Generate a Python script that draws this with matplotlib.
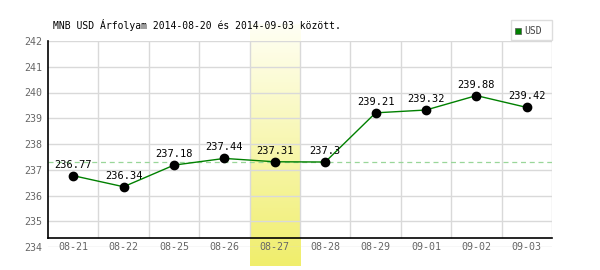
import numpy as np
import matplotlib.pyplot as plt
from matplotlib.colors import LinearSegmentedColormap

dates = ['08-21', '08-22', '08-25', '08-26', '08-27', '08-28', '08-29', '09-01', '09-02', '09-03']
rates = [236.77, 236.34, 237.18, 237.44, 237.31, 237.3, 239.21, 239.32, 239.88, 239.42]
labels = ['236.77', '236.34', '237.18', '237.44', '237.31', '237.3', '239.21', '239.32', '239.88', '239.42']
y_ticks = [234, 235, 236, 237, 238, 239, 240, 241, 242]
highlight = 4  # 08-27
title = 'MNB USD Árfolyam 2014-08-20 és 2014-09-03 között.'

plt.rcParams['font.family'] = ['DejaVu Sans Mono']

W, H = 600, 270
fig = plt.figure(figsize=(W / 100, H / 100), dpi=100)
fig.patch.set_facecolor('white')

# plot area in pixels
left, right, top, bottom = 48, 552, 41, 247
ax = fig.add_axes([left / W, (H - bottom) / H, (right - left) / W, (bottom - top) / H])
ax.set_xlim(-0.5, len(dates) - 0.5)
ax.set_ylim(234, 242)
px = (242 - 234) / (bottom - top)  # data units per pixel
axis_y = 234 + 9 * px

# highlighted day band with gradient
grad = np.linspace(0, 1, 100).reshape(-1, 1)
cmap = LinearSegmentedColormap.from_list('hl', ['#fffff4', '#f0ee6c'])
ax.imshow(grad, cmap=cmap, aspect='auto', origin='upper',
          extent=[highlight - 0.5, highlight + 0.5, 234 - 19 * px, 242 + 17 * px],
          clip_on=False, zorder=0)

# grid
for v in y_ticks:
    ax.axhline(v, color='#d9d9d9', lw=1, zorder=1)
ax.vlines(np.arange(len(dates)) + 0.5, axis_y, 242, color='#d9d9d9', lw=1, zorder=1)

# reference line at the highlighted value
ax.axhline(rates[highlight], color='#99d699', lw=0.9, ls=(0, (4, 3)), zorder=2)

x = np.arange(len(dates))
ax.plot(x, rates, color='#008000', lw=1, zorder=3)
ax.plot(x, rates, 'o', color='black', ms=6, zorder=4)
for xi, yi, t in zip(x, rates, labels):
    ax.text(xi, yi + 11 * px, t, ha='center', va='center', fontsize=7.5, color='black', zorder=5)

for s in ['top', 'right']:
    ax.spines[s].set_visible(False)
ax.spines['bottom'].set_position(('data', axis_y))
ax.spines['left'].set_bounds(axis_y, 242)
ax.spines['bottom'].set_color('black')
ax.spines['left'].set_color('black')
ax.spines['bottom'].set_linewidth(1.2)
ax.spines['left'].set_linewidth(1.2)

ax.set_xticks(x)
ax.set_xticklabels(dates)
ax.set_yticks(y_ticks)
ax.tick_params(axis='x', length=0, pad=3, labelsize=7.2, labelcolor='#666666')
ax.tick_params(axis='y', length=0, pad=4, labelsize=7.2, labelcolor='#666666')
ax.set_facecolor('none')

fig.text(53 / W, 1 - 25 / H, title, ha='left', va='center', fontsize=7, color='black')

# legend box
lx0, ly0, lx1, ly1 = 511, 20, 552, 40
fig.patches.append(plt.Rectangle((lx0 / W, 1 - ly1 / H), (lx1 - lx0) / W, (ly1 - ly0) / H,
                                 transform=fig.transFigure, facecolor='white',
                                 edgecolor='#dddddd', lw=1))
fig.patches.append(plt.Rectangle((515 / W, 1 - 34 / H), 6 / W, 6 / H,
                                 transform=fig.transFigure, facecolor='#008000',
                                 edgecolor='#555555', lw=0.5))
fig.text(524 / W, 1 - 30.5 / H, 'USD', ha='left', va='center', fontsize=7, color='#444444')

fig.savefig('out.png', dpi=100)
